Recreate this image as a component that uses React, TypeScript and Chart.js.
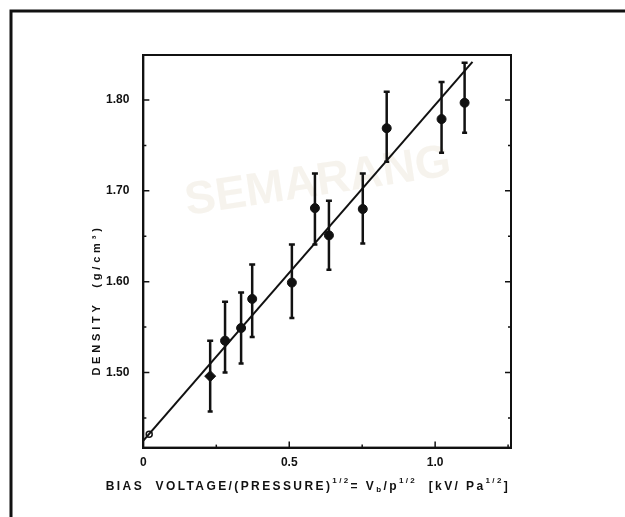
import React, { useEffect, useRef } from "react";
import { Chart, registerables } from "chart.js";

Chart.register(...registerables);

// ---- data ----
const biasValues = [0.229, 0.28, 0.335, 0.373, 0.509, 0.588, 0.636, 0.752, 0.834, 1.022, 1.101];
const densityValues = [1.496, 1.535, 1.549, 1.581, 1.599, 1.681, 1.651, 1.68, 1.769, 1.779, 1.797];
const densityUpper = [1.535, 1.578, 1.588, 1.619, 1.641, 1.719, 1.689, 1.719, 1.809, 1.82, 1.841];
const densityLower = [1.457, 1.5, 1.51, 1.539, 1.56, 1.641, 1.613, 1.642, 1.732, 1.742, 1.764];
const fitX = [0, 1.128];
const fitY = [1.425, 1.842];
const originX = [0.02];
const originY = [1.432];
const xTickValues = [0, 0.25, 0.5, 0.75, 1.0, 1.25];
const xTickLabels = ["0", "", "0.5", "", "1.0", ""];
const yTickValues = [1.45, 1.5, 1.55, 1.6, 1.65, 1.7, 1.75, 1.8];
const yTickLabels = ["", "1.50", "", "1.60", "", "1.70", "", "1.80"];
const yTitle = "DENSITY  (g/cm³)";

const INK = "#111111";

const framePlugin = {
  id: "framePlugin",
  beforeDraw(chart: any) {
    const ctx = chart.ctx;
    ctx.save();
    // faint watermark
    ctx.fillStyle = "rgba(225,215,195,0.3)";
    ctx.font = "bold 46px 'Liberation Sans'";
    ctx.translate(320, 195);
    ctx.rotate(-0.15);
    ctx.textAlign = "center";
    ctx.fillText("SEMARANG", 0, 0);
    ctx.restore();
    ctx.save();
    ctx.strokeStyle = INK;
    ctx.lineWidth = 3;
    ctx.beginPath();
    ctx.moveTo(11, 517);
    ctx.lineTo(11, 11);
    ctx.lineTo(625, 11);
    ctx.stroke();
    ctx.restore();
  },
  afterDraw(chart: any) {
    const ctx = chart.ctx;
    const a = chart.chartArea;
    const xs = chart.scales.x;
    const ys = chart.scales.y;
    ctx.save();
    ctx.strokeStyle = INK;
    ctx.lineWidth = 2;
    ctx.strokeRect(a.left, a.top, a.right - a.left, a.bottom - a.top);
    ctx.lineWidth = 1.5;
    // inward ticks
    yTickValues.forEach((v, i) => {
      const py = ys.getPixelForValue(v);
      const len = yTickLabels[i] ? 6 : 3;
      ctx.beginPath();
      ctx.moveTo(a.left, py);
      ctx.lineTo(a.left + len, py);
      ctx.moveTo(a.right, py);
      ctx.lineTo(a.right - len, py);
      ctx.stroke();
    });
    xTickValues.forEach((v, i) => {
      if (v === 0) return;
      const px = xs.getPixelForValue(v);
      const len = xTickLabels[i] ? 6 : 3;
      ctx.beginPath();
      ctx.moveTo(px, a.bottom);
      ctx.lineTo(px, a.bottom - len);
      ctx.stroke();
    });
    // y title
    ctx.fillStyle = INK;
    ctx.font = "bold 11px 'Liberation Sans'";
    (ctx as any).letterSpacing = "3.8px";
    ctx.translate(97, 300);
    ctx.rotate(-Math.PI / 2);
    ctx.textAlign = "center";
    ctx.textBaseline = "middle";
    ctx.fillText(yTitle, 0, 0);
    ctx.restore();

    // x title with superscripts
    ctx.save();
    ctx.fillStyle = INK;
    (ctx as any).letterSpacing = "2.4px";
    const parts = [
      { t: "BIAS  VOLTAGE/(PRESSURE)", s: 0 },
      { t: "1/2", s: 1 },
      { t: "= V", s: 0 },
      { t: "b", s: -1 },
      { t: "/p", s: 0 },
      { t: "1/2", s: 1 },
      { t: "  [kV/ Pa", s: 0 },
      { t: "1/2", s: 1 },
      { t: "]", s: 0 },
    ];
    const fontFor = (s: number) => (s === 0 ? "bold 12px 'Liberation Sans'" : "bold 8px 'Liberation Sans'");
    let total = 0;
    parts.forEach((p) => {
      ctx.font = fontFor(p.s);
      total += ctx.measureText(p.t).width;
    });
    let x = 308 - total / 2;
    const baseY = 490;
    ctx.textBaseline = "alphabetic";
    ctx.textAlign = "left";
    parts.forEach((p) => {
      ctx.font = fontFor(p.s);
      const dy = p.s === 1 ? -7 : p.s === -1 ? 2 : 0;
      ctx.fillText(p.t, x, baseY + dy);
      x += ctx.measureText(p.t).width;
    });
    ctx.restore();
  },
};

const errorBarPlugin = {
  id: "errorBarPlugin",
  afterDatasetsDraw(chart: any) {
    const ctx = chart.ctx;
    const xs = chart.scales.x;
    const ys = chart.scales.y;
    ctx.save();
    ctx.strokeStyle = INK;
    ctx.lineWidth = 2.5;
    biasValues.forEach((bx, i) => {
      const px = xs.getPixelForValue(bx);
      const top = ys.getPixelForValue(densityUpper[i]);
      const bot = ys.getPixelForValue(densityLower[i]);
      ctx.beginPath();
      ctx.moveTo(px, top);
      ctx.lineTo(px, bot);
      ctx.moveTo(px - 3, top);
      ctx.lineTo(px + 3, top);
      ctx.moveTo(px - 2.5, bot);
      ctx.lineTo(px + 2.5, bot);
      ctx.stroke();
    });
    ctx.restore();
  },
};

export default function App() {
  const ref = useRef<HTMLCanvasElement | null>(null);
  useEffect(() => {
    if (!ref.current) return;
    Chart.defaults.font.family = "'Liberation Sans'";
    const chart = new Chart(ref.current, {
      type: "scatter",
      data: {
        datasets: [
          {
            type: "line",
            data: fitX.map((x, i) => ({ x, y: fitY[i] })),
            borderColor: INK,
            borderWidth: 2,
            pointRadius: 0,
            fill: false,
          } as any,
          {
            data: biasValues.map((x, i) => ({ x, y: densityValues[i] })),
            backgroundColor: INK,
            borderColor: INK,
            pointRadius: biasValues.map((_, i) => (i === 0 ? 5.5 : 4.5)),
            pointStyle: biasValues.map((_, i) => (i === 0 ? "rectRot" : "circle")),
          } as any,
          {
            data: originX.map((x, i) => ({ x, y: originY[i] })),
            backgroundColor: "#ffffff",
            borderColor: INK,
            borderWidth: 1.5,
            pointRadius: 3,
          },
        ],
      },
      options: {
        animation: false,
        responsive: false,
        layout: { padding: { left: 100, right: 114, top: 55, bottom: 47 } },
        plugins: { legend: { display: false }, tooltip: { enabled: false } },
        scales: {
          x: {
            type: "linear",
            min: 0,
            max: 1.26,
            afterBuildTicks: (s: any) => {
              s.ticks = xTickValues.map((v) => ({ value: v }));
            },
            ticks: {
              color: INK,
              font: { size: 12, weight: "bold" },
              padding: 0,
              maxRotation: 0,
              autoSkip: false,
              callback: (v: any) => {
                const i = xTickValues.findIndex((t) => Math.abs(t - v) < 1e-6);
                return i >= 0 ? xTickLabels[i] : "";
              },
            },
            grid: { display: false },
            border: { display: true, color: INK, width: 2 },
          },
          y: {
            type: "linear",
            min: 1.4173,
            max: 1.8496,
            afterBuildTicks: (s: any) => {
              s.ticks = yTickValues.map((v) => ({ value: v }));
            },
            ticks: {
              color: INK,
              font: { size: 12, weight: "bold" },
              padding: 6,
              autoSkip: false,
              callback: (v: any) => {
                const i = yTickValues.findIndex((t) => Math.abs(t - v) < 1e-6);
                return i >= 0 ? yTickLabels[i] : "";
              },
            },
            grid: { display: false },
            border: { display: true, color: INK, width: 2 },
          },
        },
      },
      plugins: [framePlugin, errorBarPlugin],
    });
    return () => chart.destroy();
  }, []);
  return (
    <div style={{ position: "fixed", left: 0, top: 0, width: 625, height: 517, background: "#fff" }}>
      <canvas ref={ref} width={625} height={517} />
    </div>
  );
}
